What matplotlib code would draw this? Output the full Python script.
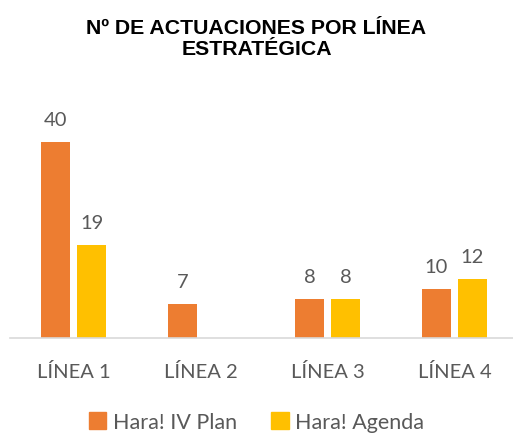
import numpy as np
import matplotlib.pyplot as plt

categories = ["LÍNEA 1", "LÍNEA 2", "LÍNEA 3", "LÍNEA 4"]
plan_iv = [40, 7, 8, 10]
agenda = [19, 0, 8, 12]
series_names = ["Hara! IV Plan", "Hara! Agenda"]
colors = ["#ED7D31", "#FFC000"]

W, H = 513, 435
fig = plt.figure(figsize=(W / 100, H / 100), dpi=100)
# axes spans 10..518 px horizontally, baseline at y=339 px
ax = fig.add_axes([10 / W, (H - 339) / H, 508 / W, 220.5 / H])

x = np.arange(len(categories))
bw = 29 / 127
off = 18 / 127
label_font = "Lato"
gray = "#595959"

for vals, dx, col in [(plan_iv, -off, colors[0]), (agenda, off, colors[1])]:
    for xi, v in zip(x, vals):
        if v == 0:
            continue
        ax.bar(xi + dx, v, width=bw, color=col)
        ax.text(xi + dx, v + 2.8, str(v), ha="center", va="bottom",
                fontsize=14.5, color=gray, family=label_font)

ax.set_xlim(-0.5, 3.5)
ax.set_ylim(0, 45)
ax.set_yticks([])
ax.set_xticks(x)
ax.set_xticklabels(categories, fontsize=14.5, color=gray, family=label_font)
ax.tick_params(axis="x", length=0, pad=17)
for s in ["top", "right", "left"]:
    ax.spines[s].set_visible(False)
ax.spines["bottom"].set_color("#D9D9D9")
ax.spines["bottom"].set_linewidth(1.2)

fig.text(0.5, 1 - 39 / H, "Nº DE ACTUACIONES POR LÍNEA\nESTRATÉGICA",
         ha="center", va="center", fontsize=15.3, fontweight="bold",
         family="Liberation Sans", linespacing=1.1)

handles = [plt.Rectangle((0, 0), 1, 1, color=c) for c in colors]
fig.legend(handles, series_names, loc="center", bbox_to_anchor=(0.5, 1 - 423 / H),
           ncol=2, frameon=False, handlelength=0.8, handleheight=0.8,
           handletextpad=0.3, columnspacing=1.6,
           prop={"family": label_font, "size": 15.5}, labelcolor=gray)

fig.savefig("out.png", dpi=100)
